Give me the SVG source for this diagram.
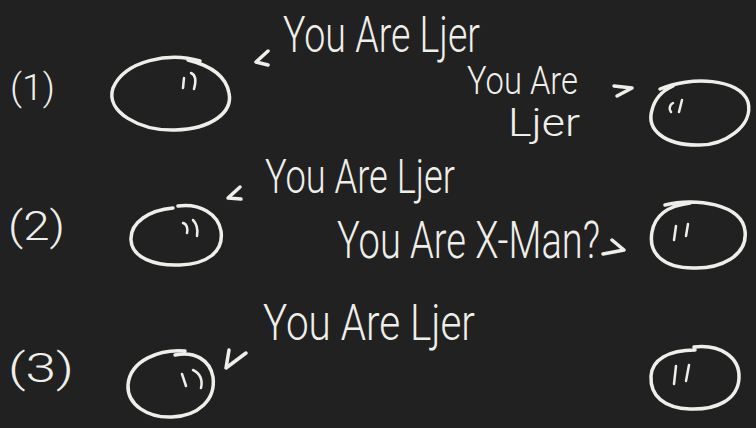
<svg xmlns="http://www.w3.org/2000/svg" width="756" height="428" viewBox="0 0 756 428">
<style>
.t{font-family:Roboto,"Liberation Sans","DejaVu Sans",sans-serif;font-weight:300;fill:#efefea;}
.s{fill:none;stroke:#efefea;stroke-width:3.5;stroke-linecap:round;stroke-linejoin:round;}
.m{fill:none;stroke:#efefea;stroke-width:2.5;stroke-linecap:round;}
</style>
<rect width="756" height="428" fill="#212121"/>
<g id="labels">
<text class="t" x="10" y="100" font-size="36" textLength="45" lengthAdjust="spacingAndGlyphs">(1)</text>
<text class="t" x="8" y="240" font-size="40" textLength="57" lengthAdjust="spacingAndGlyphs">(2)</text>
<text class="t" x="8" y="382" font-size="40" textLength="66" lengthAdjust="spacingAndGlyphs">(3)</text>
</g>
<g id="node-left-1">
<path class="s" d="M200 61 C170 52 125 60 113 88 C105 112 140 131 175 130 C212 129 233 112 229 93 C226 76 212 66 188 60"/>
<path class="m" d="M184 78 L183 88 M191 73 C196 75 196 82 194 89"/>
</g>
<g id="node-right-1">
<path class="s" d="M660 89 C690 76 740 78 748 102 C754 126 724 146 697 145 C665 145 646 130 652 110 C655 98 664 90 673 86"/>
<path class="m" d="M673 103 C669 105 669 110 671 112 M682 100 L679 112"/>
</g>
<g id="node-left-2">
<path class="s" d="M173 208 C150 210 130 222 131 240 C132 258 155 266 180 265 C207 264 224 252 221 231 C218 214 200 203 178 206"/>
<path class="m" d="M183 223 C187 224 188 229 187 233 M193 220 C197 224 198 230 197 236"/>
</g>
<g id="node-right-2">
<path class="s" d="M665 205 C695 197 742 204 745 231 C748 256 720 269 693 268 C664 268 648 254 652 232 C655 215 667 206 690 203"/>
<path class="m" d="M676 226 L674 240 M688 224 L686 236"/>
</g>
<g id="node-left-3">
<path class="s" d="M185 351 C160 349 130 360 128 385 C127 405 148 418 172 417 C198 416 216 400 213 377 C210 360 195 351 175 355"/>
<path class="m" d="M182 374 L186 386 M193 370 C200 373 203 380 201 388"/>
</g>
<g id="node-right-3">
<path class="s" d="M694 347 C720 344 740 357 739 378 C738 400 716 410 690 409 C664 408 650 396 651 376 C652 360 668 350 695 350"/>
<path class="m" d="M676 366 L674 384 M689 365 L686 381"/>
</g>
<g id="connectors">
<path class="s" d="M268 51 L256 62 L268 65"/>
<path class="s" d="M614 86 L632 88 L617 96"/>
<path class="s" d="M240 187 L228 198 L241 199"/>
<path class="s" d="M603 254 L624 250 L612 240"/>
<path class="s" d="M246 353 L226 368 L229 350"/>
</g>
<g id="texts">
<text class="t" x="283" y="52" font-size="50" textLength="197" lengthAdjust="spacingAndGlyphs">You Are Ljer</text>
<text class="t" x="467" y="94" font-size="38" textLength="111" lengthAdjust="spacingAndGlyphs">You Are</text>
<text class="t" x="508" y="136" font-size="38" textLength="72" lengthAdjust="spacingAndGlyphs">Ljer</text>
<text class="t" x="265" y="193" font-size="48" textLength="190" lengthAdjust="spacingAndGlyphs">You Are Ljer</text>
<text class="t" x="337" y="258" font-size="52" textLength="263" lengthAdjust="spacingAndGlyphs">You Are X-Man?</text>
<text class="t" x="263" y="340" font-size="50" textLength="212" lengthAdjust="spacingAndGlyphs">You Are Ljer</text>
</g>
</svg>
